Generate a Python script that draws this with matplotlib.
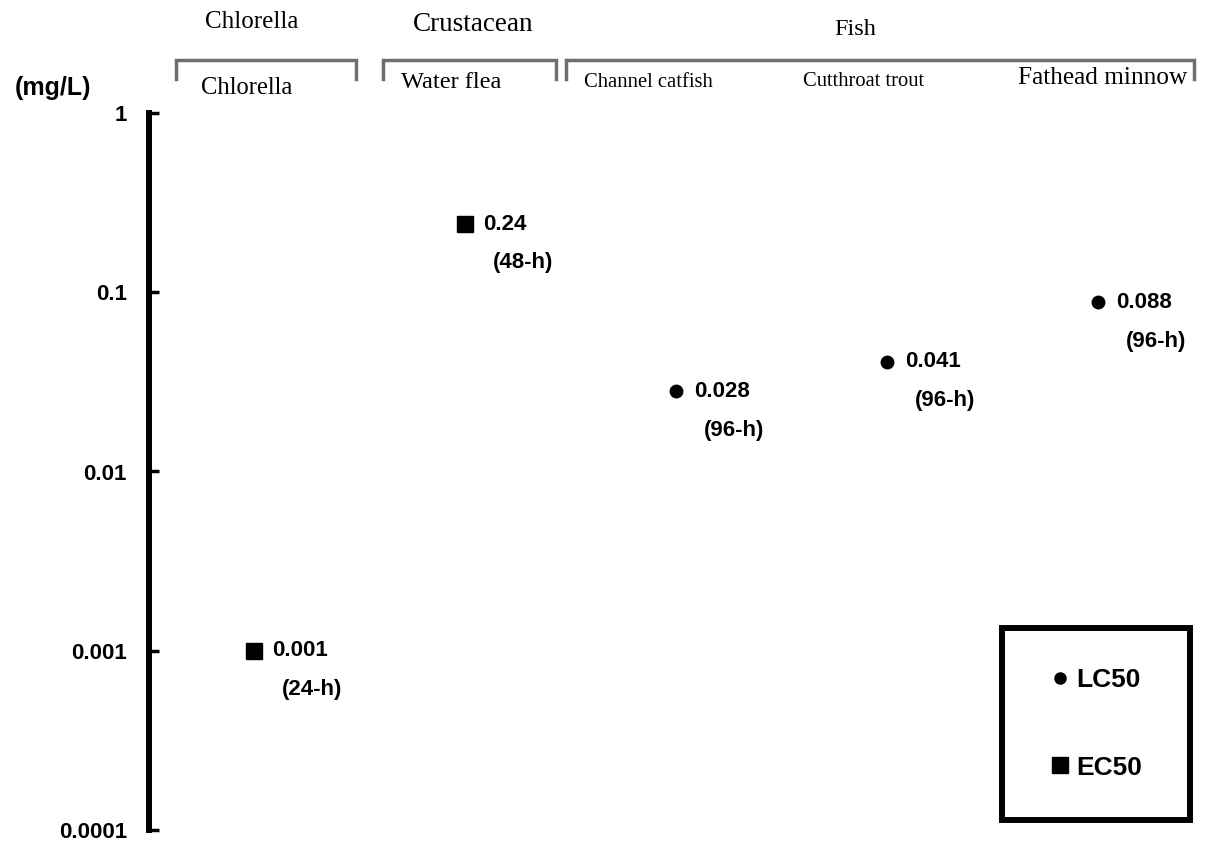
import matplotlib.pyplot as plt
from matplotlib.lines import Line2D
from matplotlib.patches import Rectangle
import matplotlib.transforms as mtransforms

# datos
grupos = ["Chlorella", "Crustacean", "Fish"]
especies = ["Chlorella", "Water flea", "Channel catfish", "Cutthroat trout", "Fathead minnow"]
valores = [0.001, 0.24, 0.028, 0.041, 0.088]
etiquetas_valor = ["0.001", "0.24", "0.028", "0.041", "0.088"]
duraciones = ["(24-h)", "(48-h)", "(96-h)", "(96-h)", "(96-h)"]
tipo = ["EC50", "EC50", "LC50", "LC50", "LC50"]
ticks_y = [0.0001, 0.001, 0.01, 0.1, 1]
ticks_y_txt = ["0.0001", "0.001", "0.01", "0.1", "1"]

SANS = "Liberation Sans"
SERIF = "Liberation Serif"

fig = plt.figure(figsize=(12.12, 8.46), dpi=100)
ax = fig.add_axes([149 / 1212, 16 / 846, 1063 / 1212, 717 / 846])

x = list(range(len(especies)))
for i, v in enumerate(valores):
    m = "s" if tipo[i] == "EC50" else "o"
    ms = 11 if m == "s" else 9
    ax.plot(x[i], v, marker=m, color="black", markersize=ms, linestyle="none")
    ax.annotate(etiquetas_valor[i], (x[i], v), xytext=(13, 0), textcoords="offset points",
                ha="left", va="center", fontsize=16, fontfamily=SANS, fontweight="bold")
    ax.annotate(duraciones[i], (x[i], v), xytext=(20, -28), textcoords="offset points",
                ha="left", va="center", fontsize=16, fontfamily=SANS, fontweight="bold")

ax.set_yscale("log")
ax.set_ylim(0.0001, 1)
ax.set_xlim(-0.4976, 4.54)
ax.set_yticks(ticks_y)
ax.set_yticklabels(ticks_y_txt, fontfamily=SANS, fontweight="bold", fontsize=16)
ax.minorticks_off()
ax.tick_params(axis="y", direction="in", length=7, width=2.5, pad=16)
ax.set_xticks([])
for lado in ["top", "right", "bottom"]:
    ax.spines[lado].set_visible(False)
ax.spines["left"].set_linewidth(4.3)

# unidad
fig.text(15 / 1212, 1 - 88 / 846, "(mg/L)", fontfamily=SANS, fontweight="bold",
         fontsize=18, ha="left", va="center")

# corchetes y etiquetas de grupos
trans = mtransforms.blended_transform_factory(ax.transData, ax.transAxes)
corchetes = [(-0.37, 0.483), (0.61, 1.43), (1.48, 4.455)]
y_top, y_bot = 1.074, 1.047
for (a, b) in corchetes:
    ax.plot([a, a, b, b], [y_bot, y_top, y_top, y_bot], color="#6e6e6e", linewidth=2.5,
            transform=trans, clip_on=False, solid_joinstyle="miter")

pos_grupos = [(-0.01, 1.127, 18), (1.04, 1.123, 19.5), (2.85, 1.116, 17.5)]
for g, (gx, gy, fs) in zip(grupos, pos_grupos):
    ax.text(gx, gy, g, transform=trans, ha="center", va="center", fontfamily=SERIF, fontsize=fs)

pos_especies = [(-0.035, 1.035, 17.7), (-0.066, 1.043, 17.6), (-0.133, 1.043, 14.9),
                (-0.109, 1.044, 14.8), (0.024, 1.049, 18.3)]
for i, (e, (dx, ey, fs)) in enumerate(zip(especies, pos_especies)):
    ax.text(x[i] + dx, ey, e, transform=trans, ha="center", va="center",
            fontfamily=SERIF, fontsize=fs)

# leyenda
ax.add_patch(Rectangle((0.802, 0.014), 0.177, 0.268, transform=ax.transAxes,
                       fill=False, edgecolor="black", linewidth=4.3, clip_on=False))
manejadores = [Line2D([], [], marker="o", color="black", linestyle="none", markersize=8),
               Line2D([], [], marker="s", color="black", linestyle="none", markersize=11)]
ax.legend(manejadores, ["LC50", "EC50"], loc="center", bbox_to_anchor=(0.89, 0.148),
          frameon=False, labelspacing=2.4, handletextpad=0.15, handlelength=0.9,
          prop={"family": SANS, "weight": "bold", "size": 19})

fig.savefig("out.png", dpi=100)
